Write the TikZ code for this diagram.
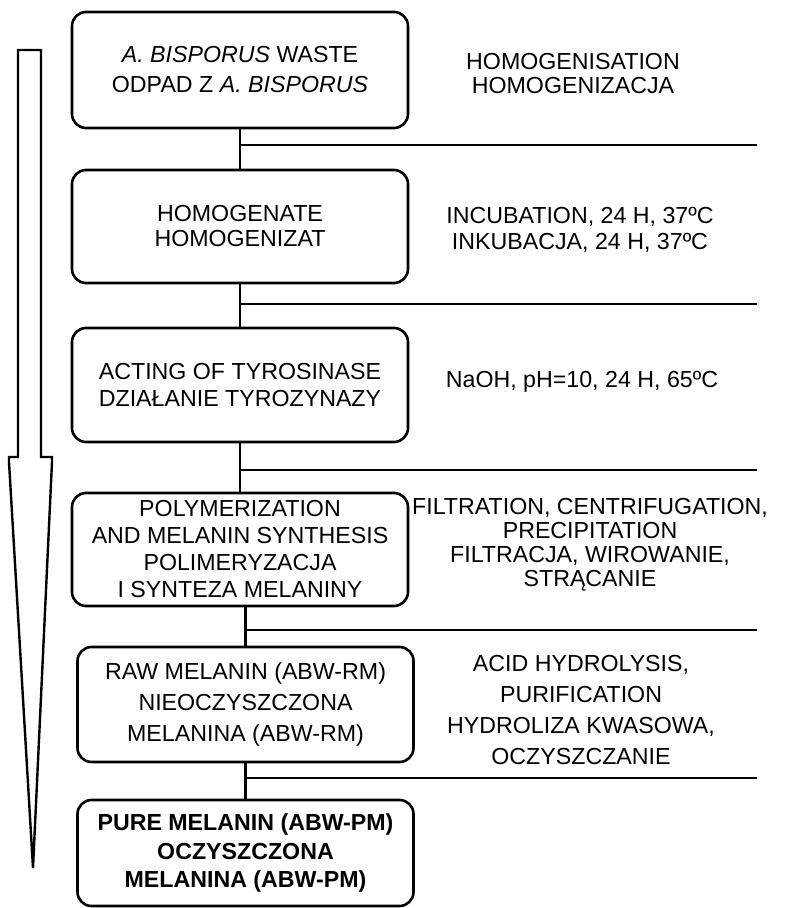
\documentclass[tikz,border=0pt]{standalone}
\usepackage{fontspec}
\setmainfont{Liberation Sans}
\usetikzlibrary{positioning}

\begin{document}
\begin{tikzpicture}[
  x=0.5pt, y=-0.5pt,
  font=\fontsize{11.6pt}{12pt}\selectfont,
  box/.style={
    draw,
    rounded corners=7pt,
    align=center,
    inner sep=2pt,
    minimum width=168pt,
    minimum height=#1,
    line width=1.3pt
  },
  box/.default=57pt,
  lsp/.style={font=\fontsize{11.6pt}{#1}\selectfont},
  note/.style={align=center, inner sep=1pt},
  rule/.style={line width=1.4pt},
  link/.style={line width=1.3pt}
]
  \useasboundingbox (0,0) rectangle (787,908);

  % process steps
  \node[box=58pt, lsp=15pt] (b1) at (240,70) {\textit{A. BISPORUS} WASTE\\ODPAD Z \textit{A. BISPORUS}};
  \node[box=56.5pt, lsp=12.5pt, below=19.7pt of b1] (b2) {HOMOGENATE\\HOMOGENIZAT};
  \node[box=57pt, lsp=13.5pt, below=21.2pt of b2] (b3) {ACTING OF TYROSINASE\\DZIAŁANIE TYROZYNAZY};
  \node[box=56.5pt, lsp=13.5pt, below=24.2pt of b3] (b4) {POLYMERIZATION\\AND MELANIN SYNTHESIS\\POLIMERYZACJA\\I SYNTEZA MELANINY};
  \node[box=57.5pt, lsp=15.5pt, below=19.2pt of b4, xshift=2.75pt] (b5) {RAW MELANIN (ABW-RM)\\NIEOCZYSZCZONA\\MELANINA (ABW-RM)};
  \node[box=53pt, font=\fontsize{11.6pt}{14.25pt}\selectfont\bfseries, below=17.7pt of b5] (b6) {PURE MELANIN (ABW-PM)\\OCZYSZCZONA\\MELANINA (ABW-PM)};

  % treatments
  \node[note, lsp=12pt] (l1) at (573,74) {HOMOGENISATION\\HOMOGENIZACJA};
  \node[note, lsp=13pt] (l2) at (580,230) {INCUBATION, 24 H, 37ºC\\INKUBACJA, 24 H, 37ºC};
  \node[note] (l3) at (582,382) {NaOH, pH=10, 24 H, 65ºC};
  \node[note, lsp=12pt] (l4) at (590,545) {FILTRATION, CENTRIFUGATION,\\PRECIPITATION\\FILTRACJA, WIROWANIE,\\STRĄCANIE};
  \node[note, lsp=15.5pt] (l5) at (581,710) {ACID HYDROLYSIS,\\PURIFICATION\\HYDROLIZA KWASOWA,\\OCZYSZCZANIE};

  % rule ends
  \coordinate (r1) at (757,145);
  \coordinate (r2) at (757,304);
  \coordinate (r3) at (757,470);
  \coordinate (r4) at (757,630);
  \coordinate (r5) at (757,778);

  \draw[link] (b1) -- (b2);
  \draw[link] (b2) -- (b3);
  \draw[link] (b3) -- (b4);
  \draw[link] (b5.north) -- (b5.north |- b4.south);
  \draw[link] (b5) -- (b6);

  \draw[rule] (b1.south |- r1) -- (r1);
  \draw[rule] (b2.south |- r2) -- (r2);
  \draw[rule] (b3.south |- r3) -- (r3);
  \draw[rule] (b5.north |- r4) -- (r4);
  \draw[rule] (b5.south |- r5) -- (r5);

  % long arrow on the left
  \draw[line width=1.2pt] (18,50) -- (41,50) -- (41,457) -- (52,457) -- (52,462)
    -- (33,868) -- (9,462) -- (9,457) -- (18,457) -- cycle;
\end{tikzpicture}
\end{document}
